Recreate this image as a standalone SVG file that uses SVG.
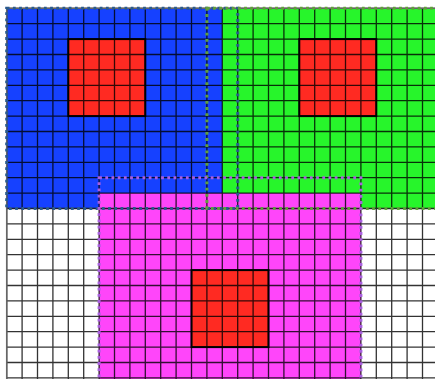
<svg xmlns="http://www.w3.org/2000/svg" width="435" height="379" viewBox="0 0 435 379">
<style>
.grid{stroke:#000;stroke-opacity:0.8;stroke-width:1.3;fill:none}
.red{fill:#ff2a22;stroke:#000;stroke-width:2}
.dot{fill:none;stroke-width:3;stroke-dasharray:2.8 3.4}
</style>
<rect width="435" height="379" fill="#fff"/>
<g id="regions">
<rect id="blue" x="6.7" y="8.3" width="215.6" height="200.2" fill="#1641ff"/>
<rect id="green" x="222.3" y="8.3" width="215" height="200.2" fill="#27f52b"/>
<rect id="pink" x="99.1" y="193.1" width="261.8" height="190" fill="#ff45fa"/>
</g>
<g id="squares">
<rect id="sq-blue" class="red" x="68.3" y="39.1" width="77" height="77"/>
<rect id="sq-green" class="red" x="299.3" y="39.1" width="77" height="77"/>
<rect id="sq-pink" class="red" x="191.5" y="270.1" width="77" height="77"/>
</g>
<path class="grid" d="M6.7 8.3V379M22.1 8.3V379M37.5 8.3V379M52.9 8.3V379M68.3 8.3V379M83.7 8.3V379M99.1 8.3V379M114.5 8.3V379M129.9 8.3V379M145.3 8.3V379M160.7 8.3V379M176.1 8.3V379M191.5 8.3V379M206.9 8.3V379M222.3 8.3V379M237.7 8.3V379M253.1 8.3V379M268.5 8.3V379M283.9 8.3V379M299.3 8.3V379M314.7 8.3V379M330.1 8.3V379M345.5 8.3V379M360.9 8.3V379M376.3 8.3V379M391.7 8.3V379M407.1 8.3V379M422.5 8.3V379
M6.7 8.3H435M6.7 23.7H435M6.7 39.1H435M6.7 54.5H435M6.7 69.9H435M6.7 85.3H435M6.7 100.7H435M6.7 116.1H435M6.7 131.5H435M6.7 146.9H435M6.7 162.3H435M6.7 177.7H435M6.7 193.1H435M6.7 208.5H435M6.7 223.9H435M6.7 239.3H435M6.7 254.7H435M6.7 270.1H435M6.7 285.5H435M6.7 300.9H435M6.7 316.3H435M6.7 331.7H435M6.7 347.1H435M6.7 362.5H435M6.7 377.9H435"/>
<path d="M6.7 8.3H435M6.7 8.3V379" stroke="#666" stroke-width="1.5" fill="none"/>
<g id="outlines">
<rect class="dot" x="6.7" y="8.3" width="231" height="200.2" stroke="#2a5a8e"/>
<rect class="dot" x="206.9" y="8.3" width="235" height="200.2" stroke="#5fa03a"/>
<rect class="dot" x="99.1" y="177.7" width="261.8" height="210" stroke="#a95ee0"/>
</g>
</svg>
